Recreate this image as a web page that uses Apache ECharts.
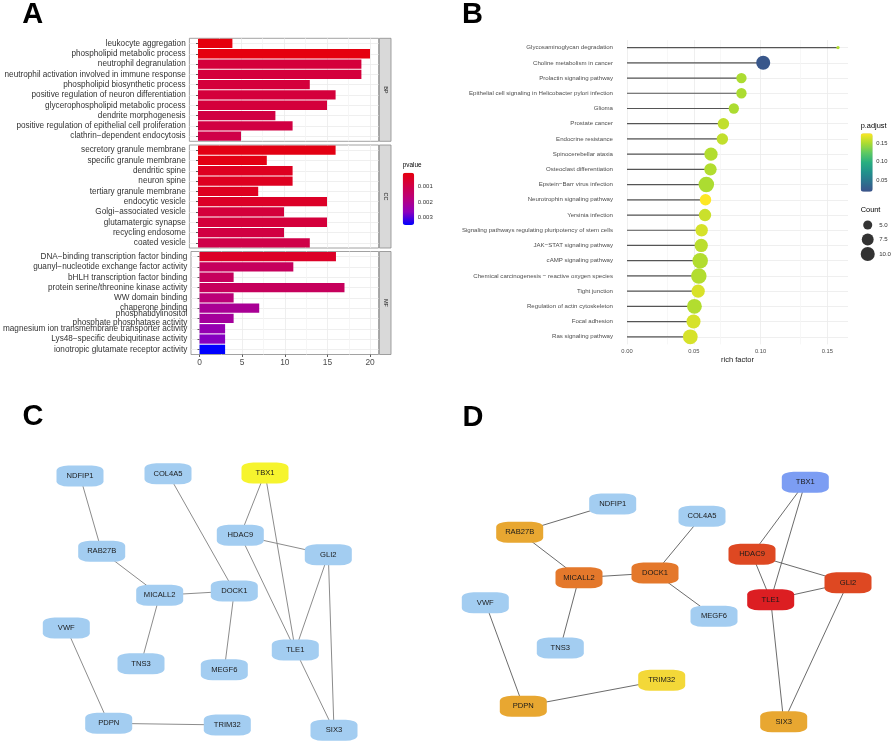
<!DOCTYPE html>
<html><head><meta charset="utf-8">
<script src="https://cdn.jsdelivr.net/npm/echarts@6/dist/echarts.min.js"></script>
<style>html,body{margin:0;padding:0;background:#fff}#c{width:894px;height:742px}</style>
</head><body><div id="c"></div>
<script>
// ---------- Panel A : GO enrichment (Count, pvalue) ----------
const bpTerms = ['leukocyte aggregation','phospholipid metabolic process','neutrophil degranulation','neutrophil activation involved in immune response','phospholipid biosynthetic process','positive regulation of neuron differentiation','glycerophospholipid metabolic process','dendrite morphogenesis','positive regulation of epithelial cell proliferation','clathrin−dependent endocytosis'];
const bpCounts = [4,20,19,19,13,16,15,9,11,5];
const bpPvalues = [0.00012,0.00015,0.0008,0.0008,0.0008,0.0008,0.0008,0.0009,0.0009,0.0010];

const ccTerms = ['secretory granule membrane','specific granule membrane','dendritic spine','neuron spine','tertiary granule membrane','endocytic vesicle','Golgi−associated vesicle','glutamatergic synapse','recycling endosome','coated vesicle'];
const ccCounts = [16,8,11,11,7,15,10,15,10,13];
const ccPvalues = [0.0002,0.0002,0.0004,0.0004,0.0004,0.0005,0.0008,0.0008,0.0009,0.0010];

const mfTerms = ['DNA−binding transcription factor binding','guanyl−nucleotide exchange factor activity','bHLH transcription factor binding','protein serine/threonine kinase activity','WW domain binding','chaperone binding','phosphatidylinositol\nphosphate phosphatase activity','magnesium ion transmembrane transporter activity','Lys48−specific deubiquitinase activity','ionotropic glutamate receptor activity'];
const mfCounts = [16,11,4,17,4,7,4,3,3,3];
const mfPvalues = [0.0005,0.0013,0.0013,0.0013,0.0017,0.0021,0.0022,0.0025,0.0027,0.0035];

const facetNames = ['BP','CC','MF'];
const countTicks = [0,5,10,15,20];
const countMinorTicks = [2.5,7.5,12.5,17.5];
const pvalueTicks = [0.001,0.002,0.003];

// ---------- Panel B : KEGG lollipop ----------
const keggTerms = ['Glycosaminoglycan degradation','Choline metabolism in cancer','Prolactin signaling pathway','Epithelial cell signaling in Helicobacter pylori infection','Glioma','Prostate cancer','Endocrine resistance','Spinocerebellar ataxia','Osteoclast differentiation','Epstein−Barr virus infection','Neurotrophin signaling pathway','Yersinia infection','Signaling pathways regulating pluripotency of stem cells','JAK−STAT signaling pathway','cAMP signaling pathway','Chemical carcinogenesis − reactive oxygen species','Tight junction','Regulation of actin cytoskeleton','Focal adhesion','Ras signaling pathway'];
const keggRichFactor = [0.158,0.102,0.0857,0.0857,0.080,0.0722,0.0714,0.0629,0.0625,0.0594,0.0588,0.0584,0.0559,0.0556,0.0548,0.0538,0.0533,0.0505,0.0498,0.0474];
const keggCount = [3,10,6,6,6,7,7,9,8,12,7,8,8,9,12,12,9,11,10,11];
const keggPadjust = [0.152,0.022,0.150,0.150,0.150,0.157,0.157,0.152,0.152,0.150,0.177,0.160,0.164,0.155,0.152,0.152,0.165,0.152,0.164,0.164];
const richTicks = [0,0.05,0.10,0.15];
const richMinorTicks = [0.025,0.075,0.125];
const padjTicks = [0.05,0.10,0.15];
const countLegendValues = [5,7.5,10];
const countLegendLabels = ['5.0','7.5','10.0'];

// ---------- Panels C & D : PPI networks ----------
const genes = ['NDFIP1','COL4A5','TBX1','HDAC9','GLI2','RAB27B','MICALL2','DOCK1','VWF','TNS3','MEGF6','TLE1','PDPN','TRIM32','SIX3'];
const edges = [['NDFIP1','RAB27B'],['RAB27B','MICALL2'],['MICALL2','DOCK1'],['MICALL2','TNS3'],['COL4A5','DOCK1'],['DOCK1','MEGF6'],['TBX1','HDAC9'],['TBX1','TLE1'],['HDAC9','GLI2'],['HDAC9','TLE1'],['GLI2','TLE1'],['GLI2','SIX3'],['TLE1','SIX3'],['VWF','PDPN'],['PDPN','TRIM32']];
// layout positions (network layout units)
const layoutCx = [80,168,265,240.3,328.3,101.7,159.7,234.3,66.3,141,224.3,295.3,108.7,227.3,334];
const layoutCy = [46,43.7,43,105.3,124.7,121.3,165.3,161,198,233.7,239.7,220,293.3,295,300.3];
const layoutDx = [165.7,255,358.3,305,401,72.7,132,208,38.3,113.3,267,323.7,76.3,214.7,336.7];
const layoutDy = [74,86.3,52.3,124.3,152.7,102.3,147.7,143,172.7,218,186.3,169.7,276.3,250.3,291.7];
const colorsC = ['#A3CDF1','#A3CDF1','#F6F42E','#A3CDF1','#A3CDF1','#A3CDF1','#A3CDF1','#A3CDF1','#A3CDF1','#A3CDF1','#A3CDF1','#A3CDF1','#A3CDF1','#A3CDF1','#A3CDF1'];
const colorsD = ['#A3CDF1','#A3CDF1','#7C9DF3','#DE4822','#DE4822','#E8A731','#E4782B','#E4782B','#A3CDF1','#A3CDF1','#A3CDF1','#DC1E22','#E8A731','#F3D838','#E8A731'];

// ---------- layout constants ----------
const FONT = '"Liberation Sans", Arial, Helvetica, sans-serif';
const facetTop = [38.3,145,251.5];
const facetH = 103;
const aLeft = 189.4, aWidth = 189.2;

function countSize(c){ return 3.3 + 12.2*Math.sqrt(Math.max(c-3,0)/9); }

const chart = echarts.init(document.getElementById('c'), null, {renderer:'canvas'});

const grids = [], xAxes = [], yAxes = [], series = [];
const facetData = [[bpTerms,bpCounts,bpPvalues],[ccTerms,ccCounts,ccPvalues],[mfTerms,mfCounts,mfPvalues]];

facetData.forEach((f,i)=>{
  grids.push({left:aLeft, top:facetTop[i], width:aWidth, height:facetH, show:true, borderColor:'#8a8a8a', borderWidth:0.8, backgroundColor:'#fff'});
  const last = i===2;
  xAxes.push({type:'value', gridIndex:i, min:-1, max:21, splitNumber:5,
    axisLine:{show:false},
    axisTick:{show:last, customValues:countTicks, length:2.5, lineStyle:{color:'#333', width:0.8}},
    axisLabel:{show:last, customValues:countTicks, fontSize:8.4, color:'#4D4D4D', margin:4, fontFamily:FONT},
    splitLine:{show:true, lineStyle:{color:'#EBEBEB', width:0.8}}});
  yAxes.push({type:'category', gridIndex:i, data:f[0], inverse:true,
    axisLine:{show:false},
    axisTick:{show:true, alignWithLabel:true, length:2, lineStyle:{color:'#333', width:0.8}},
    axisLabel:{fontSize:8.2, color:'#333', margin:3.7, fontFamily:FONT, lineHeight:9.2, interval:0},
    splitLine:{show:true, alignWithLabel:true, lineStyle:{color:'#EBEBEB', width:0.8}}});
  series.push({type:'bar', xAxisIndex:i, yAxisIndex:i, barCategoryGap:'10%', z:2,
    data:f[0].map((t,j)=>[f[1][j], t, f[2][j]]), encode:{x:0, y:1},
    silent:true,
    markLine:{silent:true, z:1, symbol:['none','none'], label:{show:false}, animation:false,
      lineStyle:{color:'#F4F4F4', width:0.8, type:'solid'},
      data:countMinorTicks.map(v=>({xAxis:v}))}});
});

// grid 3 : panel B
grids.push({left:627, top:40, width:221, height:304.4});
xAxes.push({type:'value', gridIndex:3, min:0, max:0.1655, interval:0.05,
  axisLine:{show:false}, axisTick:{show:false},
  axisLabel:{fontSize:5.8, color:'#4D4D4D', margin:4, fontFamily:FONT, showMaxLabel:false, formatter:v=>v.toFixed(2)},
  splitLine:{show:false},
  name:'rich factor', nameLocation:'middle', nameGap:12, nameTextStyle:{fontSize:7.5, color:'#1a1a1a', fontFamily:FONT}});
yAxes.push({type:'category', gridIndex:3, data:keggTerms, inverse:true,
  axisLine:{show:false}, axisTick:{show:false},
  axisLabel:{fontSize:6.1, color:'#4D4D4D', margin:14, fontFamily:FONT, interval:0},
  splitLine:{show:true, alignWithLabel:true, lineStyle:{color:'#EBEBEB', width:0.8}}});
series.push({type:'bar', xAxisIndex:3, yAxisIndex:3, barWidth:1.2, z:2, silent:true,
  itemStyle:{color:'#555'},
  data:keggTerms.map((t,j)=>[keggRichFactor[j], t]), encode:{x:0,y:1},
  markLine:{silent:true, z:1, symbol:['none','none'], label:{show:false}, animation:false,
    data:[...richTicks.map(v=>({xAxis:v, lineStyle:{color:'#EBEBEB', width:0.8, type:'solid'}})),
          ...richMinorTicks.map(v=>({xAxis:v, lineStyle:{color:'#F5F5F5', width:0.8, type:'solid'}}))]}});
series.push({type:'scatter', xAxisIndex:3, yAxisIndex:3, z:3, silent:true,
  data:keggTerms.map((t,j)=>[keggRichFactor[j], t, keggCount[j], keggPadjust[j]]), encode:{x:0,y:1},
  symbolSize:d=>countSize(d[2]), itemStyle:{opacity:1}});

// grid 4 : pvalue colorbar labels
grids.push({left:402.7, top:172.7, width:11.5, height:52.3});
xAxes.push({type:'value', gridIndex:4, show:false, min:0, max:1});
yAxes.push({type:'value', gridIndex:4, min:0.0001, max:0.0035, inverse:true, position:'right',
  axisLine:{show:false}, axisTick:{show:false}, splitLine:{show:false},
  axisLabel:{customValues:pvalueTicks, fontSize:6, color:'#333', margin:3.5, fontFamily:FONT, formatter:v=>v.toFixed(3)}});

// grid 5 : p.adjust colorbar labels
grids.push({left:860.7, top:133.3, width:12, height:58.4});
xAxes.push({type:'value', gridIndex:5, show:false, min:0, max:1});
yAxes.push({type:'value', gridIndex:5, min:0.018, max:0.177, position:'right',
  axisLine:{show:false}, axisTick:{show:false}, splitLine:{show:false},
  axisLabel:{customValues:padjTicks, fontSize:5.8, color:'#333', margin:3.5, fontFamily:FONT, formatter:v=>v.toFixed(2)}});

// grid 6 : Count size legend
grids.push({left:860, top:217.8, width:18, height:43.5});
xAxes.push({type:'value', gridIndex:6, show:false, min:0, max:1});
yAxes.push({type:'category', gridIndex:6, data:countLegendLabels, inverse:true, position:'right',
  axisLine:{show:false}, axisTick:{show:false}, splitLine:{show:false},
  axisLabel:{fontSize:6.1, color:'#333', margin:3.7, fontFamily:FONT}});
series.push({type:'scatter', xAxisIndex:6, yAxisIndex:6, silent:true, itemStyle:{color:'#000'},
  data:countLegendValues.map((c,j)=>[0.5, countLegendLabels[j], c]), encode:{x:0,y:1},
  symbolSize:d=>countSize(d[2])});

// grids 7,8 : networks
function netSeries(gi, xs, ys, cols, lineColor, lineWidth){
  return {type:'graph', coordinateSystem:'cartesian2d', xAxisIndex:gi, yAxisIndex:gi, silent:true,
    symbol:'roundRect', symbolSize:[47,21],
    data:genes.map((g,i)=>({name:g, value:[xs[i], ys[i]], itemStyle:{color:cols[i]}})),
    links:edges.map(e=>({source:e[0], target:e[1]})),
    lineStyle:{color:lineColor, width:lineWidth, opacity:1, curveness:0},
    label:{show:true, position:'inside', fontSize:7.6, color:'#1A1A1A', fontFamily:FONT},
    emphasis:{disabled:true}};
}
grids.push({left:0, top:430, width:447, height:312});
xAxes.push({type:'value', gridIndex:7, show:false, min:0, max:447});
yAxes.push({type:'value', gridIndex:7, show:false, min:0, max:312, inverse:true});
series.push(netSeries(7, layoutCx, layoutCy, colorsC, '#8C8C8C', 1));
grids.push({left:447, top:430, width:447, height:312});
xAxes.push({type:'value', gridIndex:8, show:false, min:0, max:447});
yAxes.push({type:'value', gridIndex:8, show:false, min:0, max:312, inverse:true});
series.push(netSeries(8, layoutDx, layoutDy, colorsD, '#5A5A5A', 0.9));

// graphics: panel letters, strips, legend titles
function txt(x,y,text,font,opts){
  return Object.assign({type:'text', x:x, y:y, silent:true,
    style:{text:text, font:font, fill:'#000', align:'left', verticalAlign:'middle', textAlign:'left', textVerticalAlign:'middle'}}, opts||{});
}
const graphics = [];
[['A',32.7,14.7],['B',472.5,15],['C',33,417.3],['D',473,417.5]].forEach(l=>{
  const t = txt(l[1], l[2], l[0], 'bold 29px '+FONT);
  t.style.align='center'; t.style.textAlign='center';
  graphics.push(t);
});
facetNames.forEach((n,i)=>{
  graphics.push({type:'rect', silent:true, shape:{x:379.4, y:facetTop[i], width:11.6, height:facetH},
    style:{fill:'#D9D9D9', stroke:'#8a8a8a', lineWidth:0.8}});
  const t = txt(385.2, facetTop[i]+facetH/2, n, '5.5px '+FONT, {rotation:-Math.PI/2});
  t.style.align='center'; t.style.textAlign='center'; t.style.fill='#1a1a1a';
  graphics.push(t);
});
graphics.push(txt(402.7,165.7,'pvalue','6.4px '+FONT));
graphics.push(txt(860.7,125.7,'p.adjust','7.4px '+FONT));
graphics.push(txt(860.7,210,'Count','7.4px '+FONT));

chart.setOption({
  animation:false,
  backgroundColor:'#fff',
  textStyle:{fontFamily:FONT},
  grid:grids, xAxis:xAxes, yAxis:yAxes, series:series,
  visualMap:[
    {type:'continuous', seriesIndex:[0,1,2], dimension:2, min:0.0001, max:0.0035, inverse:true,
     left:402.7, top:172.7, itemWidth:11.5, itemHeight:52.3, calculable:false, padding:0, text:null, showLabel:false,
     inRange:{color:['#E6000C','#D00045','#B8007E','#8E00BC','#0000FF']}},
    {type:'continuous', seriesIndex:[4], dimension:3, min:0.018, max:0.177,
     left:860.7, top:133.3, itemWidth:12, itemHeight:58.4, calculable:false, padding:0, text:null, showLabel:false,
     inRange:{color:['#3B528B','#2C728E','#21918C','#28AE80','#5EC962','#ADDC30','#FDE725']}}
  ],
  graphic:graphics
});
</script>
</body></html>
